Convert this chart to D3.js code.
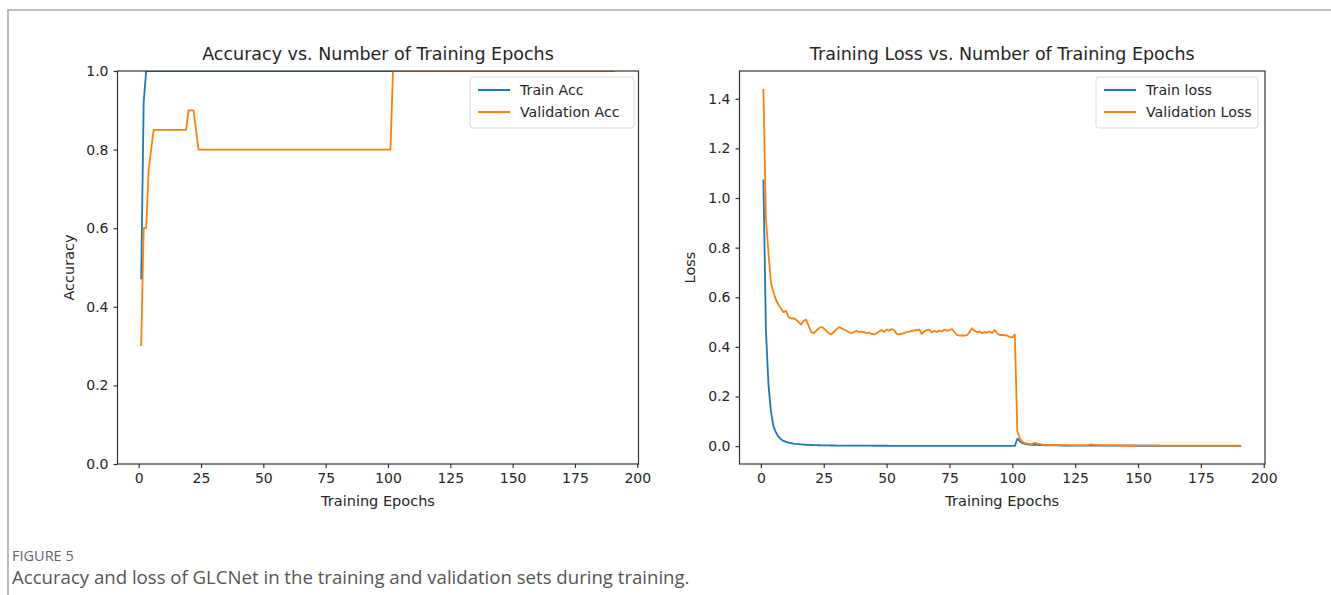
<!DOCTYPE html>
<html>
<head>
<meta charset="utf-8">
<script src="https://cdn.jsdelivr.net/npm/d3@7"></script>
<style>
  body { margin: 0; background: #fff; }
  svg { display: block; }
</style>
</head>
<body>
<div id="chart-container"></div>
<script>
// epochs 1..191
const trainAcc = [
  0.47, 0.92, 1.0, 1.0, 1.0, 1.0, 1.0, 1.0, 1.0, 1.0, 1.0, 1.0, 1.0, 1.0, 1.0, 1.0, 1.0, 1.0, 1.0, 1.0,
  1.0, 1.0, 1.0, 1.0, 1.0, 1.0, 1.0, 1.0, 1.0, 1.0, 1.0, 1.0, 1.0, 1.0, 1.0, 1.0, 1.0, 1.0, 1.0, 1.0,
  1.0, 1.0, 1.0, 1.0, 1.0, 1.0, 1.0, 1.0, 1.0, 1.0, 1.0, 1.0, 1.0, 1.0, 1.0, 1.0, 1.0, 1.0, 1.0, 1.0,
  1.0, 1.0, 1.0, 1.0, 1.0, 1.0, 1.0, 1.0, 1.0, 1.0, 1.0, 1.0, 1.0, 1.0, 1.0, 1.0, 1.0, 1.0, 1.0, 1.0,
  1.0, 1.0, 1.0, 1.0, 1.0, 1.0, 1.0, 1.0, 1.0, 1.0, 1.0, 1.0, 1.0, 1.0, 1.0, 1.0, 1.0, 1.0, 1.0, 1.0,
  1.0, 1.0, 1.0, 1.0, 1.0, 1.0, 1.0, 1.0, 1.0, 1.0, 1.0, 1.0, 1.0, 1.0, 1.0, 1.0, 1.0, 1.0, 1.0, 1.0,
  1.0, 1.0, 1.0, 1.0, 1.0, 1.0, 1.0, 1.0, 1.0, 1.0, 1.0, 1.0, 1.0, 1.0, 1.0, 1.0, 1.0, 1.0, 1.0, 1.0,
  1.0, 1.0, 1.0, 1.0, 1.0, 1.0, 1.0, 1.0, 1.0, 1.0, 1.0, 1.0, 1.0, 1.0, 1.0, 1.0, 1.0, 1.0, 1.0, 1.0,
  1.0, 1.0, 1.0, 1.0, 1.0, 1.0, 1.0, 1.0, 1.0, 1.0, 1.0, 1.0, 1.0, 1.0, 1.0, 1.0, 1.0, 1.0, 1.0, 1.0,
  1.0, 1.0, 1.0, 1.0, 1.0, 1.0, 1.0, 1.0, 1.0, 1.0, 1.0
];

const valAcc = [
  0.30, 0.60, 0.60, 0.75, 0.80, 0.85, 0.85, 0.85, 0.85, 0.85, 0.85, 0.85, 0.85, 0.85, 0.85, 0.85, 0.85, 0.85, 0.85, 0.90,
  0.90, 0.90, 0.85, 0.80, 0.80, 0.80, 0.80, 0.80, 0.80, 0.80, 0.80, 0.80, 0.80, 0.80, 0.80, 0.80, 0.80, 0.80, 0.80, 0.80,
  0.80, 0.80, 0.80, 0.80, 0.80, 0.80, 0.80, 0.80, 0.80, 0.80, 0.80, 0.80, 0.80, 0.80, 0.80, 0.80, 0.80, 0.80, 0.80, 0.80,
  0.80, 0.80, 0.80, 0.80, 0.80, 0.80, 0.80, 0.80, 0.80, 0.80, 0.80, 0.80, 0.80, 0.80, 0.80, 0.80, 0.80, 0.80, 0.80, 0.80,
  0.80, 0.80, 0.80, 0.80, 0.80, 0.80, 0.80, 0.80, 0.80, 0.80, 0.80, 0.80, 0.80, 0.80, 0.80, 0.80, 0.80, 0.80, 0.80, 0.80,
  0.80, 1.0, 1.0, 1.0, 1.0, 1.0, 1.0, 1.0, 1.0, 1.0, 1.0, 1.0, 1.0, 1.0, 1.0, 1.0, 1.0, 1.0, 1.0, 1.0,
  1.0, 1.0, 1.0, 1.0, 1.0, 1.0, 1.0, 1.0, 1.0, 1.0, 1.0, 1.0, 1.0, 1.0, 1.0, 1.0, 1.0, 1.0, 1.0, 1.0,
  1.0, 1.0, 1.0, 1.0, 1.0, 1.0, 1.0, 1.0, 1.0, 1.0, 1.0, 1.0, 1.0, 1.0, 1.0, 1.0, 1.0, 1.0, 1.0, 1.0,
  1.0, 1.0, 1.0, 1.0, 1.0, 1.0, 1.0, 1.0, 1.0, 1.0, 1.0, 1.0, 1.0, 1.0, 1.0, 1.0, 1.0, 1.0, 1.0, 1.0,
  1.0, 1.0, 1.0, 1.0, 1.0, 1.0, 1.0, 1.0, 1.0, 1.0, 1.0
];

const trainLoss = [
  1.075, 0.47, 0.25, 0.14, 0.08, 0.055, 0.038, 0.028, 0.021, 0.017, 0.014, 0.012, 0.010, 0.009, 0.008, 0.007, 0.006, 0.0055, 0.005, 0.0045,
  0.004, 0.0038, 0.0035, 0.0033, 0.003, 0.0029, 0.0027, 0.0026, 0.0025, 0.0024, 0.0023, 0.0022, 0.0022, 0.0021, 0.0021, 0.002, 0.002, 0.0019, 0.0019, 0.0018,
  0.0018, 0.0017, 0.0017, 0.0017, 0.0016, 0.0016, 0.0016, 0.0015, 0.0015, 0.0015, 0.0014, 0.0014, 0.0014, 0.0014, 0.0013, 0.0013, 0.0013, 0.0013, 0.0012, 0.0012,
  0.0012, 0.0012, 0.0012, 0.0011, 0.0011, 0.0011, 0.0011, 0.0011, 0.0011, 0.001, 0.001, 0.001, 0.001, 0.001, 0.001, 0.001, 0.001, 0.0009, 0.0009, 0.0009,
  0.0009, 0.0009, 0.0009, 0.0009, 0.0009, 0.0009, 0.0009, 0.0008, 0.0008, 0.0008, 0.0008, 0.0008, 0.0008, 0.0008, 0.0008, 0.0008, 0.0008, 0.0008, 0.0008, 0.0008,
  0.0008, 0.03, 0.02, 0.012, 0.009, 0.007, 0.006, 0.005, 0.006, 0.005, 0.004, 0.004, 0.0035, 0.0035, 0.003, 0.003, 0.003, 0.0028, 0.0027, 0.0026,
  0.0025, 0.0025, 0.0024, 0.0024, 0.0023, 0.0023, 0.0022, 0.0022, 0.0022, 0.0021, 0.0021, 0.0021, 0.002, 0.002, 0.002, 0.002, 0.0019, 0.0019, 0.0019, 0.0019,
  0.0018, 0.0018, 0.0018, 0.0018, 0.0017, 0.0017, 0.0017, 0.0017, 0.0016, 0.0016, 0.0016, 0.0016, 0.0016, 0.0015, 0.0015, 0.0015, 0.0015, 0.0015, 0.0014, 0.0014,
  0.0014, 0.0014, 0.0014, 0.0014, 0.0013, 0.0013, 0.0013, 0.0013, 0.0013, 0.0013, 0.0012, 0.0012, 0.0012, 0.0012, 0.0012, 0.0012, 0.0012, 0.0011, 0.0011, 0.0011,
  0.0011, 0.0011, 0.0011, 0.0011, 0.0011, 0.001, 0.001, 0.001, 0.001, 0.001, 0.001
];

const valLoss = [
  1.44, 0.92, 0.78, 0.66, 0.62, 0.59, 0.57, 0.555, 0.54, 0.545, 0.52, 0.515, 0.515, 0.51, 0.50, 0.49, 0.505, 0.51, 0.485, 0.46,
  0.455, 0.465, 0.475, 0.48, 0.475, 0.465, 0.455, 0.45, 0.46, 0.47, 0.48, 0.475, 0.47, 0.465, 0.46, 0.455, 0.46, 0.465, 0.46, 0.462,
  0.46, 0.455, 0.458, 0.452, 0.45, 0.455, 0.462, 0.468, 0.46, 0.47, 0.465, 0.472, 0.468, 0.452, 0.45, 0.452, 0.456, 0.46, 0.462, 0.465,
  0.466, 0.468, 0.47, 0.452, 0.462, 0.468, 0.47, 0.458, 0.465, 0.46, 0.466, 0.462, 0.47, 0.465, 0.468, 0.472, 0.46, 0.448, 0.445, 0.446,
  0.445, 0.447, 0.46, 0.475, 0.465, 0.46, 0.462, 0.455, 0.46, 0.458, 0.462, 0.456, 0.468, 0.455, 0.448, 0.448, 0.447, 0.445, 0.44, 0.438,
  0.45, 0.06, 0.03, 0.018, 0.012, 0.01, 0.008, 0.009, 0.013, 0.01, 0.008, 0.006, 0.005, 0.005, 0.0045, 0.004, 0.004, 0.0038, 0.0036, 0.0035,
  0.0034, 0.0033, 0.0032, 0.0031, 0.003, 0.003, 0.003, 0.0029, 0.0029, 0.0028, 0.007, 0.006, 0.005, 0.004, 0.0035, 0.003, 0.003, 0.0029, 0.0028, 0.0028,
  0.0027, 0.0027, 0.0026, 0.0026, 0.0026, 0.0025, 0.0025, 0.0025, 0.0024, 0.0024, 0.0024, 0.0023, 0.0023, 0.0023, 0.0023, 0.0022, 0.0022, 0.0022, 0.0022, 0.0021,
  0.0021, 0.0021, 0.0021, 0.0021, 0.002, 0.002, 0.002, 0.002, 0.002, 0.002, 0.0019, 0.0019, 0.0019, 0.0019, 0.0019, 0.0019, 0.0018, 0.0018, 0.0018, 0.0018,
  0.0018, 0.0018, 0.0018, 0.0017, 0.0017, 0.0017, 0.0017, 0.0017, 0.0017, 0.0017, 0.0017
];

const xTicks = [0, 25, 50, 75, 100, 125, 150, 175, 200];
const accTicks = [0.0, 0.2, 0.4, 0.6, 0.8, 1.0];
const lossTicks = [0.0, 0.2, 0.4, 0.6, 0.8, 1.0, 1.2, 1.4];

const width = 1331;
const height = 595;
const blue = '#1f77b4';
const orange = '#ff7f0e';
const font = '"DejaVu Sans", sans-serif';
const ink = '#262626';

const svg = d3.select('#chart-container').append('svg')
    .attr('width', width)
    .attr('height', height);

// page frame
svg.append('path')
    .attr('d', 'M8,595 V10 H1331')
    .attr('fill', 'none')
    .attr('stroke', '#bdbdbd')
    .attr('stroke-width', 2);

function drawPanel(p) {
    const epochs = d3.range(1, p.series[0].values.length + 1);

    const x = d3.scaleLinear().domain([-8.5, 200.5]).range([p.left, p.right]);
    const y = d3.scaleLinear().domain(p.yDomain).range([p.bottom, p.top]);

    const g = svg.append('g');

    svg.append('clipPath').attr('id', p.id + '-clip')
        .append('rect')
        .attr('x', p.left).attr('y', p.top)
        .attr('width', p.right - p.left).attr('height', p.bottom - p.top);

    // lines
    const line = d3.line()
        .x((d, i) => x(epochs[i]))
        .y(d => y(d));

    g.append('g')
        .attr('clip-path', `url(#${p.id}-clip)`)
        .selectAll('path')
        .data(p.series)
        .join('path')
        .attr('d', d => line(d.values))
        .attr('fill', 'none')
        .attr('stroke', d => d.color)
        .attr('stroke-width', 1.8)
        .attr('stroke-linejoin', 'round');

    // axes
    const xAxis = g.append('g')
        .attr('transform', `translate(0,${p.bottom})`)
        .call(d3.axisBottom(x).tickValues(xTicks).tickFormat(d3.format('d')).tickSize(4).tickPadding(5));
    const yAxis = g.append('g')
        .attr('transform', `translate(${p.left},0)`)
        .call(d3.axisLeft(y).tickValues(p.yTicks).tickFormat(d3.format('.1f')).tickSize(4).tickPadding(5));

    [xAxis, yAxis].forEach(a => {
        a.select('.domain').remove();
        a.selectAll('line').attr('stroke', '#333').attr('stroke-width', 1.2);
        a.selectAll('text')
            .attr('fill', ink)
            .style('font-family', font)
            .style('font-size', '14px');
    });

    // frame
    g.append('rect')
        .attr('x', p.left).attr('y', p.top)
        .attr('width', p.right - p.left).attr('height', p.bottom - p.top)
        .attr('fill', 'none')
        .attr('stroke', '#333')
        .attr('stroke-width', 1.2);

    // title and labels
    g.append('text')
        .attr('x', (p.left + p.right) / 2)
        .attr('y', 60)
        .attr('text-anchor', 'middle')
        .style('font-family', font)
        .style('font-size', '17.5px')
        .attr('fill', ink)
        .text(p.title);

    g.append('text')
        .attr('x', (p.left + p.right) / 2)
        .attr('y', 506)
        .attr('text-anchor', 'middle')
        .style('font-family', font)
        .style('font-size', '14.5px')
        .attr('fill', ink)
        .text('Training Epochs');

    g.append('text')
        .attr('transform', `translate(${p.yLabelX},${(p.top + p.bottom) / 2}) rotate(-90)`)
        .attr('text-anchor', 'middle')
        .style('font-family', font)
        .style('font-size', '14.5px')
        .attr('fill', ink)
        .text(p.yLabel);

    // legend
    const lg = g.append('g').attr('transform', `translate(${p.legendX},${p.top + 6})`);
    lg.append('rect')
        .attr('width', p.legendW).attr('height', 51)
        .attr('rx', 3)
        .attr('fill', '#fff').attr('fill-opacity', 0.8)
        .attr('stroke', '#d9d9d9');
    const item = lg.selectAll('.legend-item')
        .data(p.series)
        .join('g')
        .attr('class', 'legend-item')
        .attr('transform', (_, i) => `translate(0, ${13 + i * 22})`);
    item.append('line')
        .attr('x1', 8).attr('x2', 40)
        .attr('stroke', d => d.color)
        .attr('stroke-width', 2);
    item.append('text')
        .attr('x', 50)
        .attr('y', 5)
        .style('font-family', font)
        .style('font-size', '14.2px')
        .attr('fill', ink)
        .text(d => d.name);
}

drawPanel({
    id: 'acc',
    left: 117.5, right: 638.5, top: 71, bottom: 464,
    yDomain: [0, 1],
    yTicks: accTicks,
    title: 'Accuracy vs. Number of Training Epochs',
    yLabel: 'Accuracy',
    yLabelX: 74,
    legendX: 470, legendW: 164,
    series: [
        { name: 'Train Acc', color: blue, values: trainAcc },
        { name: 'Validation Acc', color: orange, values: valAcc }
    ]
});

drawPanel({
    id: 'loss',
    left: 739.5, right: 1265, top: 71, bottom: 464,
    yDomain: [-0.072, 1.512],
    yTicks: lossTicks,
    title: 'Training Loss vs. Number of Training Epochs',
    yLabel: 'Loss',
    yLabelX: 695,
    legendX: 1096, legendW: 162,
    series: [
        { name: 'Train loss', color: blue, values: trainLoss },
        { name: 'Validation Loss', color: orange, values: valLoss }
    ]
});

// caption
svg.append('text')
    .attr('x', 12).attr('y', 561)
    .style('font-family', '"Open Sans", Lato, sans-serif')
    .style('font-size', '14.5px')
    .attr('fill', '#666')
    .text('FIGURE 5');

svg.append('text')
    .attr('x', 12).attr('y', 584)
    .style('font-family', '"Open Sans", Lato, sans-serif')
    .style('font-size', '18.6px')
    .attr('fill', '#555')
    .text('Accuracy and loss of GLCNet in the training and validation sets during training.');
</script>
</body>
</html>
